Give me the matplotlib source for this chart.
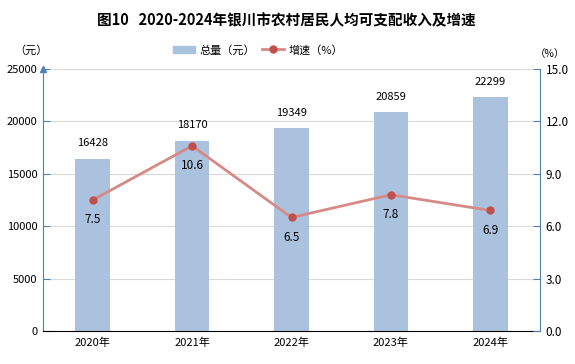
import matplotlib.pyplot as plt
import numpy as np
from matplotlib.lines import Line2D
from matplotlib.patches import Patch

plt.rcParams["font.family"] = ["Noto Sans CJK SC", "DejaVu Sans"]

years = ["2020年", "2021年", "2022年", "2023年", "2024年"]
income = [16428, 18170, 19349, 20859, 22299]
growth = [7.5, 10.6, 6.5, 7.8, 6.9]

BAR = "#abc2df"
LINE = "#d68a86"
MARK = "#c0504d"
AXIS = "#4f81bd"

fig = plt.figure(figsize=(5.75, 3.64), dpi=100)
ax = fig.add_axes([43 / 575, 1 - 331 / 364, 497 / 575, 262 / 364])
ax2 = ax.twinx()

x = np.arange(len(years))
ax.bar(x, income, width=0.35, color=BAR, zorder=2)
for xi, v in zip(x, income):
    ax.text(xi, v + 1000, str(v), ha="center", va="bottom", fontsize=8)

ax.set_xlim(-0.5, 4.5)
ax.set_ylim(0, 25000)
ax.set_yticks(range(0, 25001, 5000))
ax.set_xticks(x)
ax.set_xticklabels(years, fontsize=8)
ax.tick_params(axis="y", direction="in", length=5, color=AXIS, labelsize=8, pad=4)
ax.tick_params(axis="x", length=0, pad=5)
ax.grid(axis="y", color="#d9d9d9", linewidth=0.8, zorder=0)
ax.set_axisbelow(True)
for s in ["top", "right"]:
    ax.spines[s].set_visible(False)
ax.spines["left"].set_color(AXIS)
ax.spines["bottom"].set_color("black")
ax.plot(0, 1, marker="^", color=AXIS, markersize=5, transform=ax.transAxes, clip_on=False)

ax2.plot(x, growth, color=LINE, linewidth=2, zorder=3)
ax2.plot(x, growth, "o", color=MARK, markersize=5, zorder=4)
for xi, v in zip(x, growth):
    ax2.text(xi, v - 0.75, f"{v:.1f}", ha="center", va="top", fontsize=8.5)
ax2.set_ylim(0, 15)
ticks2 = np.arange(0, 15.1, 3)
ax2.set_yticks(ticks2)
ax2.set_yticklabels([f"{t:.1f}" for t in ticks2])
ax2.tick_params(axis="y", direction="in", length=5, color=AXIS, labelsize=8.5, pad=4)
for s in ["top", "left", "bottom"]:
    ax2.spines[s].set_visible(False)
ax2.spines["right"].set_color(AXIS)

fig.text(286 / 575, 1 - 20 / 364, "图10   2020-2024年银川市农村居民人均可支配收入及增速",
         ha="center", va="center", fontsize=10.5, fontweight="bold")
fig.text(31 / 575, 1 - 50 / 364, "（元）", ha="center", va="center", fontsize=8)
fig.text(550 / 575, 1 - 54 / 364, "（%）", ha="center", va="center", fontsize=7.5)

handles = [Patch(color=BAR), Line2D([], [], color=LINE, linewidth=2, marker="o",
                                    markerfacecolor=MARK, markeredgecolor=MARK, markersize=5)]
fig.legend(handles, ["总量（元）", "增速（%）"], loc="center", bbox_to_anchor=(258 / 575, 1 - 50 / 364),
           ncol=2, frameon=False, fontsize=8, handlelength=2.0, columnspacing=0.6,
           handletextpad=0.4)

fig.savefig("out.png", dpi=100)
